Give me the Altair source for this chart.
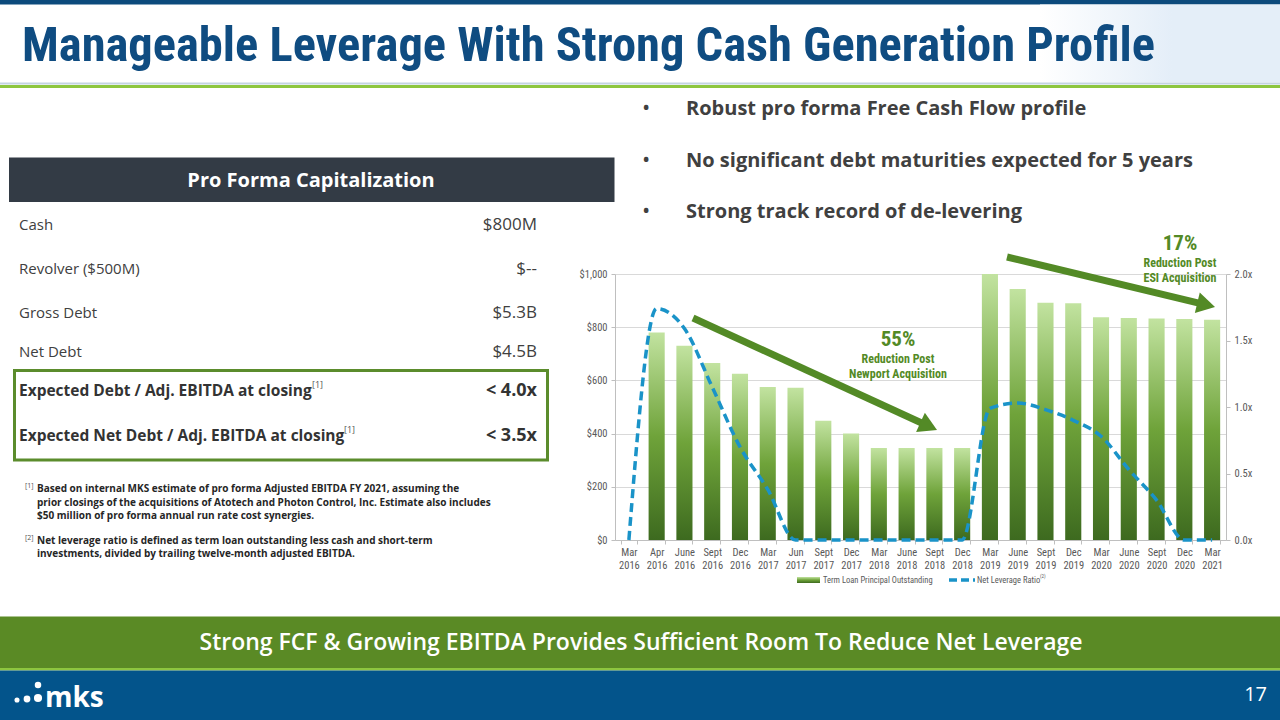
import math
import altair as alt
import pandas as pd

# ---------------- data ----------------
periods = ["Mar 2016", "Apr 2016", "June 2016", "Sept 2016", "Dec 2016", "Mar 2017",
           "Jun 2017", "Sept 2017", "Dec 2017", "Mar 2018", "June 2018", "Sept 2018",
           "Dec 2018", "Mar 2019", "June 2019", "Sept 2019", "Dec 2019", "Mar 2020",
           "June 2020", "Sept 2020", "Dec 2020", "Mar 2021"]
term_loan = [0, 780, 730, 665, 625, 575, 572, 448, 400, 346, 346, 346,
             346, 1000, 944, 892, 890, 837, 835, 833, 831, 828]
net_leverage = [0.0, 1.74, 1.59, 1.15, 0.70, 0.38, 0.0, 0.0, 0.0, 0.0, 0.0, 0.0,
                0.0, 0.99, 1.03, 0.98, 0.90, 0.78, 0.53, 0.30, 0.0, 0.0]

loan_ticks = [0, 200, 400, 600, 800, 1000]
lev_ticks = [0, 0.5, 1.0, 1.5, 2.0]

title_text = "Manageable Leverage With Strong Cash Generation Profile"
bullets = ["Robust pro forma Free Cash Flow profile",
           "No significant debt maturities expected for 5 years",
           "Strong track record of de-levering"]
cap_header = "Pro Forma Capitalization"
cap_items = ["Cash", "Revolver ($500M)", "Gross Debt", "Net Debt"]
cap_values = ["$800M", "$--", "$5.3B", "$4.5B"]
ratio_items = ["Expected Debt / Adj. EBITDA at closing",
               "Expected Net Debt / Adj. EBITDA at closing"]
ratio_values = ["< 4.0x", "< 3.5x"]
note_1 = ["Based on internal MKS estimate of pro forma Adjusted EBITDA FY 2021, assuming the",
          "prior closings of the acquisitions of Atotech and Photon Control, Inc. Estimate also includes",
          "$50 million of pro forma annual run rate cost synergies."]
note_2 = ["Net leverage ratio is defined as term loan outstanding less cash and short-term",
          "investments, divided by trailing twelve-month adjusted EBITDA."]
callouts = [("55%", "Reduction Post", "Newport Acquisition"),
            ("17%", "Reduction Post", "ESI Acquisition")]
legend_names = ["Term Loan Principal Outstanding", "Net Leverage Ratio"]
banner_text = "Strong FCF & Growing EBITDA Provides Sufficient Room To Reduce Net Leverage"
page_no = "17"

# ---------------- styling ----------------
SANS = "Open Sans"
NARROW = "Liberation Sans Narrow, Roboto Condensed, Roboto"
NAVY = "#0F4C81"
GREEN = "#538A26"
BLUE_LINE = "#1A93C8"
AXIS_GREY = "#BFBFBF"
LABEL_GREY = "#595959"

# plot area of the chart inside the 1280x720 slide
OX, OY, PW, PH = 615, 274, 611, 266

ONE = pd.DataFrame({"k": [0]})

bar_fill = alt.Gradient(
    gradient="linear", x1=0, x2=0, y1=0, y2=1,
    stops=[alt.GradientStop(color="#C2E3A0", offset=0),
           alt.GradientStop(color="#6FA33A", offset=0.5),
           alt.GradientStop(color="#3D6A1F", offset=1)])
corner_fill = alt.Gradient(
    gradient="linear", x1=0, x2=1, y1=0, y2=0,
    stops=[alt.GradientStop(color="#FFFFFF", offset=0),
           alt.GradientStop(color="#E4EEF8", offset=0.55),
           alt.GradientStop(color="#E4EEF8", offset=1)])


def box(x1, y1, x2, y2, **kw):
    return alt.Chart(ONE).mark_rect(**kw).encode(
        x=alt.value(x1 - OX), x2=alt.value(x2 - OX),
        y=alt.value(y1 - OY), y2=alt.value(y2 - OY))


def label(txt, x, y, size, color="#404040", weight="normal", align="left",
          font=SANS, baseline="middle"):
    return alt.Chart(ONE).mark_text(
        text=txt, font=font, fontSize=size, fontWeight=weight, color=color,
        align=align, baseline=baseline).encode(x=alt.value(x - OX), y=alt.value(y - OY))


def dot(x, y, size, color="white"):
    return alt.Chart(ONE).mark_circle(color=color, size=size, opacity=1).encode(
        x=alt.value(x - OX), y=alt.value(y - OY))


def arrow(x0, y0, x1, y1, color=GREEN, width=7, head=441):
    dx, dy = x1 - x0, y1 - y0
    length = math.hypot(dx, dy)
    ux, uy = dx / length, dy / length
    h = 0.433 * math.sqrt(head)
    cx, cy = x1 - ux * h, y1 - uy * h
    shaft = alt.Chart(ONE).mark_rule(color=color, strokeWidth=width).encode(
        x=alt.value(x0 - OX), x2=alt.value(cx - OX),
        y=alt.value(y0 - OY), y2=alt.value(cy - OY))
    tip = alt.Chart(ONE).mark_point(
        shape="triangle-right", filled=True, size=head, color=color, opacity=1,
        angle=math.degrees(math.atan2(dy, dx))).encode(
        x=alt.value(cx - OX), y=alt.value(cy - OY))
    return [shaft, tip]


layers = []

# ---- slide frame ----
layers += [
    box(0, 0, 1280, 4.5, color="#0C4A7C"),
    box(1040, 4.5, 1280, 82, color=corner_fill),
    box(0, 82.5, 1280, 84.5, color="#C3D4E2"),
    box(0, 85, 1280, 88, color="#8DC63F"),
    label(title_text, 22, 61, 48.5, color=NAVY, weight="bold", font=NARROW,
          baseline="alphabetic"),
]

# ---- bullets ----
for i, b in enumerate(bullets):
    y = 115 + i * 51.5
    layers.append(label("\u2022", 642, y, 22, color="#404040", baseline="alphabetic"))
    layers.append(label(b, 686, y, 20, color="#404040", weight="bold",
                        baseline="alphabetic"))

# ---- capitalization table ----
layers += [
    box(9, 157.5, 614.5, 202, color="#333B45"),
    label(cap_header, 311, 181, 20, color="white", weight="bold", align="center"),
]
row_y = [225, 269, 313, 352]
for name, val, y in zip(cap_items, cap_values, row_y):
    layers.append(label(name, 19, y, 15, color="#404040"))
    layers.append(label(val, 537, y, 17, color="#404040", align="right"))

layers.append(box(14.5, 370.5, 547.5, 460, fill="white", fillOpacity=0,
                  stroke="#5B8C2C", strokeWidth=3))
ratio_y = [391, 436]
sup_x = [312, 344]
for name, val, y, sx in zip(ratio_items, ratio_values, ratio_y, sup_x):
    layers.append(label(name, 19, y, 15.5, color="#333333", weight="bold"))
    layers.append(label("[1]", sx, y - 6, 9, color="#555555"))
    layers.append(label(val, 537, y, 18, color="#333333", weight="bold", align="right"))

# ---- footnotes ----
layers.append(label("[1]", 25, 486, 7, color="#555555"))
for i, line in enumerate(note_1):
    layers.append(label(line, 37, 489 + i * 13.5, 10, color="#262626", weight="bold"))
layers.append(label("[2]", 25, 538, 7, color="#555555"))
for i, line in enumerate(note_2):
    layers.append(label(line, 37, 541 + i * 13, 10, color="#262626", weight="bold"))

# ---- bottom banners ----
layers += [
    box(0, 616.5, 1280, 668, color="#5A8A25"),
    box(0, 668, 1280, 670.5, color="#8DC63F"),
    box(0, 670.5, 1280, 720, color="#03548B"),
    label(banner_text, 641, 643, 23, color="white", weight=600, align="center"),
    label(page_no, 1267, 695, 20, color="white", align="right"),
    dot(17, 700, 26), dot(27, 699, 46), dot(38, 698, 66), dot(38, 685, 42),
    label("mks", 45, 707, 28, color="white", weight="bold", baseline="alphabetic"),
]

# ---- chart ----
df = pd.DataFrame({"period": periods, "loan": term_loan, "lev": net_leverage})

x_enc = alt.X(
    "period:N", sort=periods,
    scale=alt.Scale(paddingInner=0.42, paddingOuter=0.21),
    axis=alt.Axis(title=None, labelAngle=0, labelExpr="split(datum.label, ' ')",
                  labelFont=NARROW, labelFontSize=10.5, labelColor=LABEL_GREY,
                  labelLineHeight=13, labelPadding=3, tickBand="extent",
                  tickSize=4, tickColor=AXIS_GREY, domainColor=AXIS_GREY, grid=False))

bars = alt.Chart(df).mark_bar(color=bar_fill).encode(
    x=x_enc,
    y=alt.Y("loan:Q", scale=alt.Scale(domain=[0, 1000], nice=False),
            axis=alt.Axis(orient="left", title=None, values=loan_ticks, format="$,.0f",
                          labelFont=NARROW, labelFontSize=10.5, labelColor=LABEL_GREY,
                          labelPadding=4, tickSize=4, tickColor=AXIS_GREY,
                          domainColor=AXIS_GREY, grid=True, gridColor="#D9D9D9")))

line = alt.Chart(df).mark_line(
    color=BLUE_LINE, strokeWidth=3.5, strokeDash=[9, 5], interpolate="monotone").encode(
    x=x_enc,
    y=alt.Y("lev:Q", scale=alt.Scale(domain=[0, 2], nice=False),
            axis=alt.Axis(orient="right", title=None, values=lev_ticks,
                          labelExpr="format(datum.value, '.1f') + 'x'",
                          labelFont=NARROW, labelFontSize=10.5, labelColor=LABEL_GREY,
                          labelPadding=4, tickSize=4, tickColor=AXIS_GREY,
                          domainColor=AXIS_GREY, grid=False)))

layers += [bars, line]

# ---- de-levering arrows and callouts ----
layers += arrow(693, 318, 937, 430)
layers += arrow(1007, 257, 1215, 307)
for (pct, l1, l2), (cx, cy) in zip(callouts, [(898, 340), (1180, 244)]):
    layers.append(label(pct, cx, cy, 21, color=GREEN, weight="bold", align="center",
                        font=NARROW))
    layers.append(label(l1, cx, cy + 19, 12, color=GREEN, weight="bold", align="center",
                        font=NARROW))
    layers.append(label(l2, cx, cy + 34, 12, color=GREEN, weight="bold", align="center",
                        font=NARROW))

# ---- legend ----
layers += [
    box(797, 577, 820, 583, color=bar_fill),
    label(legend_names[0], 823, 580, 8.5, color=LABEL_GREY, font=NARROW),
    alt.Chart(ONE).mark_rule(color=BLUE_LINE, strokeWidth=3.5, strokeDash=[8, 4]).encode(
        x=alt.value(949 - OX), x2=alt.value(975 - OX),
        y=alt.value(580 - OY), y2=alt.value(580 - OY)),
    label(legend_names[1], 977, 580, 8.5, color=LABEL_GREY, font=NARROW),
    label("(2)", 1040, 576, 5, color=LABEL_GREY, font=NARROW),
]

chart = alt.layer(*layers).resolve_scale(y="independent").properties(
    width=PW, height=PH,
    padding={"left": OX, "top": OY, "right": 1280 - OX - PW, "bottom": 720 - OY - PH},
    autosize=alt.AutoSizeParams(type="none"),
    background="white",
).configure_view(stroke=None)

chart.save("out.html", embed_options={"renderer": "svg", "actions": False})
